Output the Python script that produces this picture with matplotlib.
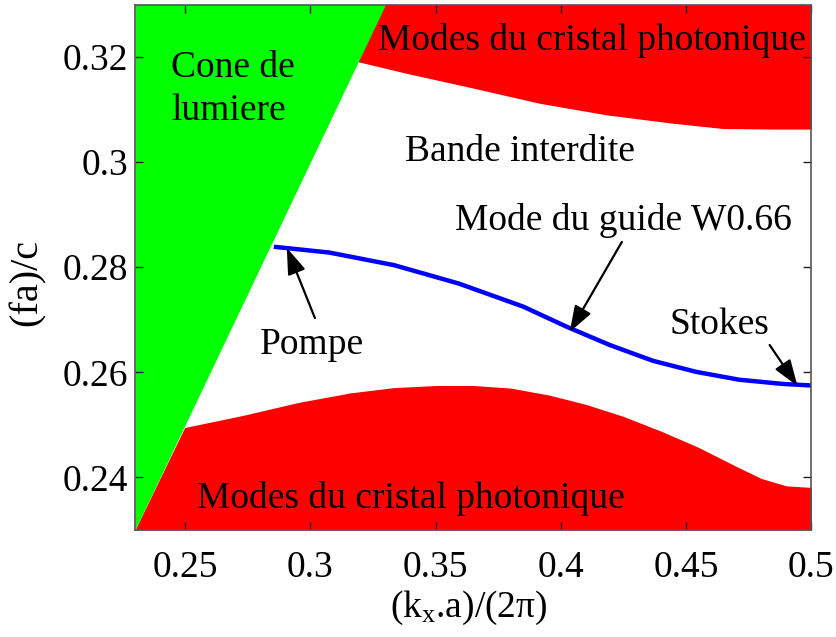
import matplotlib
matplotlib.use("Agg")
import matplotlib.pyplot as plt
import numpy as np

# ---- data ----
x_limits = [0.23, 0.5]
y_limits = [0.23, 0.33]

# light line f = k (cone de lumiere boundary)
light_x = [0.23, 0.33]
light_y = [0.23, 0.33]

# upper band edge (modes du cristal photonique, haut)
upper_x = [0.3191, 0.3384, 0.3649, 0.3915, 0.4182, 0.4447, 0.4647, 0.4846, 0.5000]
upper_y = [0.3191, 0.3169, 0.3141, 0.3112, 0.3090, 0.3074, 0.3064, 0.3063, 0.3063]

# lower band edge (modes du cristal photonique, bas)
lower_x = [0.2300, 0.2498, 0.2730, 0.2955, 0.3161, 0.3334, 0.3505, 0.3650, 0.3800,
           0.3950, 0.4100, 0.4250, 0.4400, 0.4550, 0.4700, 0.4800, 0.4900, 0.5000]
lower_y = [0.2300, 0.2495, 0.2518, 0.2543, 0.2561, 0.2571, 0.2575, 0.2575, 0.2570,
           0.2557, 0.2539, 0.2516, 0.2488, 0.2457, 0.2421, 0.2398, 0.2384, 0.2381]

# guided mode W0.66
mode_x = [0.2854, 0.3075, 0.3334, 0.3592, 0.3850, 0.4022, 0.4195, 0.4367, 0.4539,
          0.4711, 0.4884, 0.5000]
mode_y = [0.2839, 0.2828, 0.2804, 0.2769, 0.2725, 0.2687, 0.2652, 0.2622, 0.2601,
          0.2586, 0.2578, 0.2575]

x_ticks = [0.25, 0.3, 0.35, 0.4, 0.45, 0.5]
x_ticklabels = ['0.25', '0.3', '0.35', '0.4', '0.45', '0.5']
y_ticks = [0.24, 0.26, 0.28, 0.3, 0.32]
y_ticklabels = ['0.24', '0.26', '0.28', '0.3', '0.32']

# ---- style ----
plt.rcParams['font.family'] = ['Liberation Serif', 'DejaVu Serif']
plt.rcParams['mathtext.fontset'] = 'custom'
plt.rcParams['mathtext.rm'] = 'Liberation Serif'
plt.rcParams['mathtext.it'] = 'Liberation Serif:italic'
FS = 27

fig = plt.figure(figsize=(8.37, 6.37), dpi=100)
W, H = 837, 637
ax = fig.add_axes([135 / W, 1 - 530 / H, (811.5 - 135) / W, (530 - 4.5) / H])

red = '#ff0000'
green = '#00ff00'
blue = '#0000ff'

ax.fill_between(upper_x, upper_y, y_limits[1], color=red, lw=0, zorder=1)
ax.fill_between(lower_x, y_limits[0], lower_y, color=red, lw=0, zorder=1)
ax.fill_between(light_x, light_y, y_limits[1], color=green, lw=0, zorder=1.2)
ax.plot(mode_x, mode_y, color=blue, lw=3.2, solid_capstyle='butt',
        solid_joinstyle='round', zorder=2)

ax.set_xlim(x_limits)
ax.set_ylim(y_limits)
ax.set_xticks(x_ticks)
ax.set_xticklabels(x_ticklabels)
ax.set_yticks(y_ticks)
ax.set_yticklabels(y_ticklabels)
ax.tick_params(direction='in', length=6, width=1, top=True, right=True,
               labelsize=FS, color='#222222')
ax.tick_params(axis='x', pad=15)
ax.tick_params(axis='y', pad=5)
for s in ax.spines.values():
    s.set_color('#555555')
    s.set_linewidth(1.2)

ax.set_xlabel(r'(k$_\mathrm{x}$.a)/(2π)', fontsize=FS, va='top', ha='center')
ax.xaxis.set_label_coords((469 - 135) / 676.5, (530 - 589) / 525.5)
ax.set_ylabel('(fa)/c', fontsize=FS + 2, va='center', ha='center')
ax.yaxis.set_label_coords((27.5 - 135) / 676.5, (530 - 282) / 525.5)

# ---- texts ----
ax.text(0.2444, 0.3162, 'Cone de', fontsize=FS, ha='left', va='baseline', zorder=5)
ax.text(0.2444, 0.3080, 'lumiere', fontsize=FS, ha='left', va='baseline', zorder=5)
ax.text(0.3269, 0.32134, 'Modes du cristal photonique', fontsize=FS, ha='left',
        va='baseline', zorder=5)
ax.text(0.3377, 0.30022, 'Bande interdite', fontsize=FS, ha='left', va='baseline', zorder=5)
ax.text(0.3576, 0.28709, 'Mode du guide W0.66', fontsize=FS, ha='left', va='baseline', zorder=5)
ax.text(0.2799, 0.26343, 'Pompe', fontsize=FS, ha='left', va='baseline', zorder=5)
ax.text(0.4434, 0.26730, 'Stokes', fontsize=FS, ha='left', va='baseline', zorder=5)
ax.text(0.2547, 0.23419, 'Modes du cristal photonique', fontsize=FS, ha='left',
        va='baseline', zorder=5)

arrow_kw = dict(arrowstyle='-|>,head_length=0.8,head_width=0.28', color='black',
                lw=1.6, shrinkA=0, shrinkB=0, mutation_scale=20)
ax.annotate('', xy=(0.2906, 0.28367), xytext=(0.3018, 0.27034), arrowprops=arrow_kw, zorder=6)
ax.annotate('', xy=(0.4035, 0.26768), xytext=(0.4243, 0.28481), arrowprops=arrow_kw, zorder=6)
ax.annotate('', xy=(0.4944, 0.25740), xytext=(0.4833, 0.26520), arrowprops=arrow_kw, zorder=6)

fig.savefig('out.png', dpi=100)
